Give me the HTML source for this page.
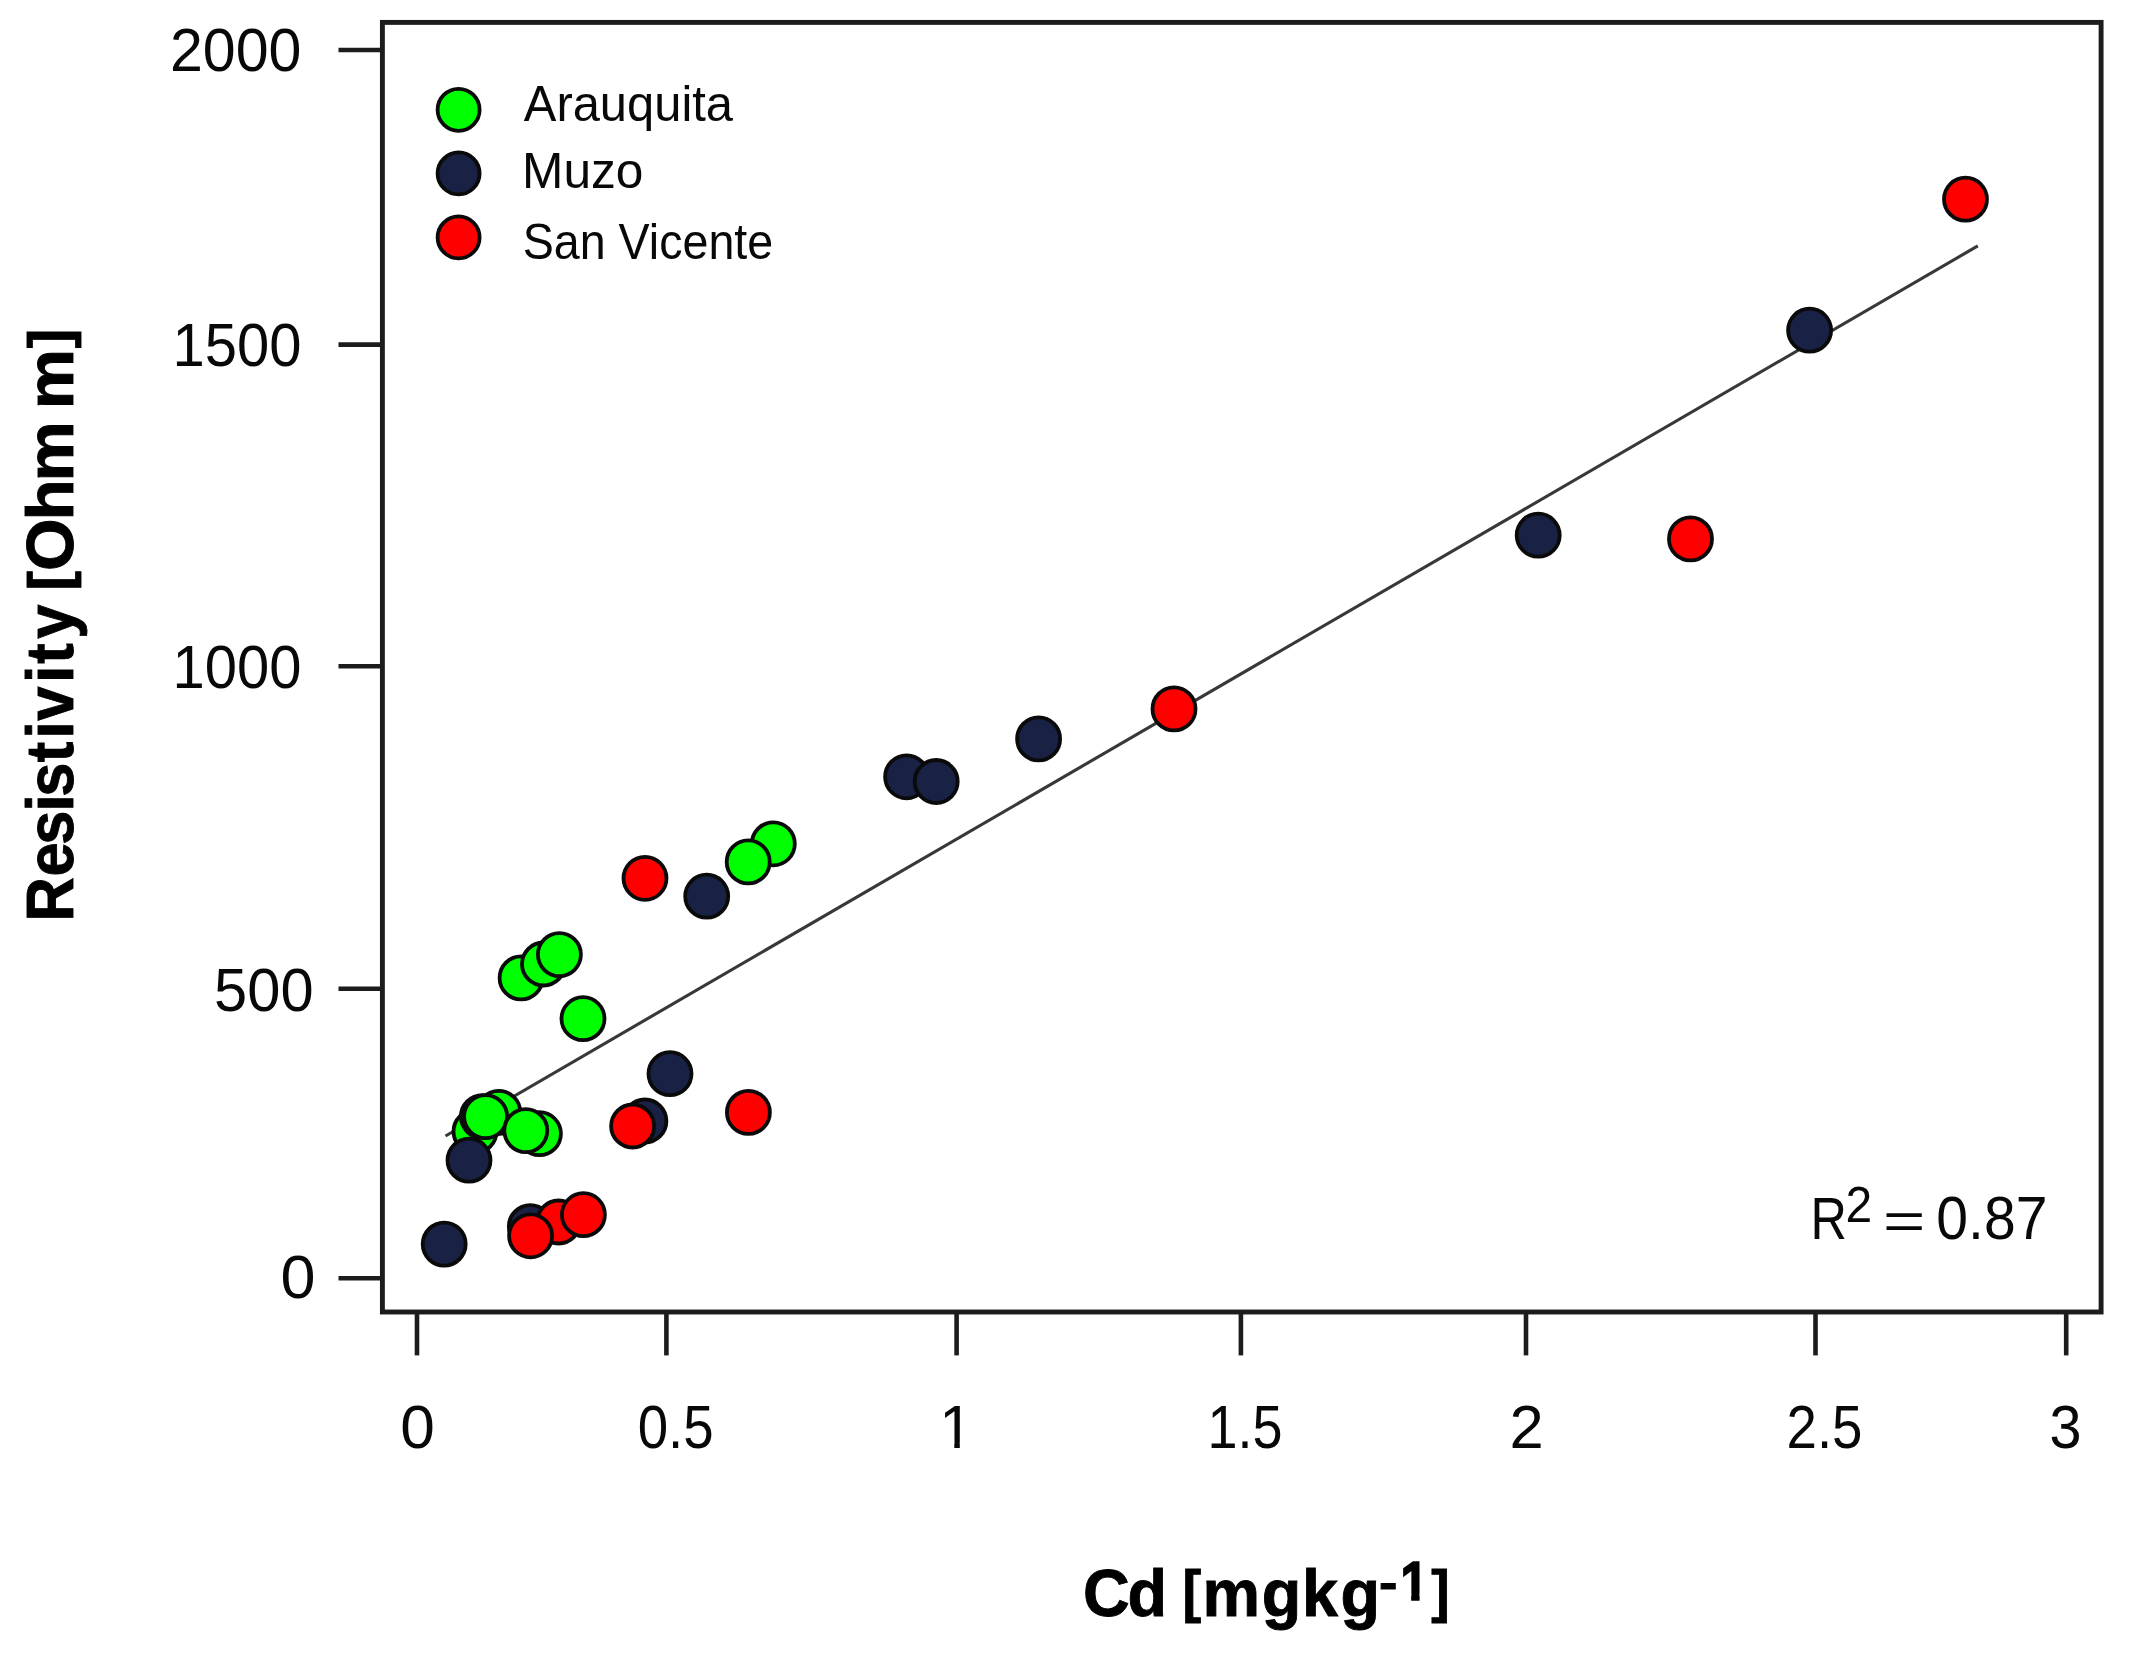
<!DOCTYPE html>
<html lang="en"><head><meta charset="utf-8"><title>Resistivity vs Cd</title>
<style>html,body{margin:0;padding:0;background:#fff}svg{display:block;filter:blur(0.75px)}text{font-family:"Liberation Sans",sans-serif;fill:#080808}.b{font-weight:bold;fill:#000;stroke:#000;stroke-width:0.9px}</style></head><body>
<svg width="2139" height="1659" viewBox="0 0 2139 1659">
<rect width="2139" height="1659" fill="#fff"/>
<rect x="382.4" y="22.4" width="1718.7" height="1289.6" fill="none" stroke="#1c1c1c" stroke-width="4.9"/>
<line x1="338.5" y1="50.0" x2="382.4" y2="50.0" stroke="#1c1c1c" stroke-width="4.6"/>
<line x1="338.5" y1="344.6" x2="382.4" y2="344.6" stroke="#1c1c1c" stroke-width="4.6"/>
<line x1="338.5" y1="666.2" x2="382.4" y2="666.2" stroke="#1c1c1c" stroke-width="4.6"/>
<line x1="338.5" y1="988.8" x2="382.4" y2="988.8" stroke="#1c1c1c" stroke-width="4.6"/>
<line x1="338.5" y1="1278.2" x2="382.4" y2="1278.2" stroke="#1c1c1c" stroke-width="4.6"/>
<line x1="417.0" y1="1312" x2="417.0" y2="1355.4" stroke="#1c1c1c" stroke-width="4.6"/>
<line x1="666.4" y1="1312" x2="666.4" y2="1355.4" stroke="#1c1c1c" stroke-width="4.6"/>
<line x1="956.6" y1="1312" x2="956.6" y2="1355.4" stroke="#1c1c1c" stroke-width="4.6"/>
<line x1="1240.9" y1="1312" x2="1240.9" y2="1355.4" stroke="#1c1c1c" stroke-width="4.6"/>
<line x1="1526.0" y1="1312" x2="1526.0" y2="1355.4" stroke="#1c1c1c" stroke-width="4.6"/>
<line x1="1815.5" y1="1312" x2="1815.5" y2="1355.4" stroke="#1c1c1c" stroke-width="4.6"/>
<line x1="2066.2" y1="1312" x2="2066.2" y2="1355.4" stroke="#1c1c1c" stroke-width="4.6"/>
<line x1="445.5" y1="1136" x2="1977.8" y2="245.9" stroke="#383838" stroke-width="3.1"/>
<circle cx="773.3" cy="843.8" r="21.5" fill="#00ff00" stroke="#0a0a0a" stroke-width="3.8"/>
<circle cx="748.2" cy="861.9" r="21.5" fill="#00ff00" stroke="#0a0a0a" stroke-width="3.8"/>
<circle cx="521.1" cy="977.9" r="21.5" fill="#00ff00" stroke="#0a0a0a" stroke-width="3.8"/>
<circle cx="543.5" cy="964.0" r="21.5" fill="#00ff00" stroke="#0a0a0a" stroke-width="3.8"/>
<circle cx="559.4" cy="954.6" r="21.5" fill="#00ff00" stroke="#0a0a0a" stroke-width="3.8"/>
<circle cx="583.0" cy="1018.7" r="21.5" fill="#00ff00" stroke="#0a0a0a" stroke-width="3.8"/>
<circle cx="475.0" cy="1131.5" r="21.5" fill="#00ff00" stroke="#0a0a0a" stroke-width="3.8"/>
<circle cx="498.8" cy="1112.4" r="21.5" fill="#00ff00" stroke="#0a0a0a" stroke-width="3.8"/>
<circle cx="482.4" cy="1116.6" r="21.5" fill="#00ff00" stroke="#0a0a0a" stroke-width="3.8"/>
<circle cx="485.6" cy="1116.6" r="21.5" fill="#00ff00" stroke="#0a0a0a" stroke-width="3.8"/>
<circle cx="539.4" cy="1133.7" r="21.5" fill="#00ff00" stroke="#0a0a0a" stroke-width="3.8"/>
<circle cx="525.8" cy="1130.6" r="21.5" fill="#00ff00" stroke="#0a0a0a" stroke-width="3.8"/>
<circle cx="706.7" cy="896.2" r="21.5" fill="#192245" stroke="#0a0a0a" stroke-width="3.8"/>
<circle cx="670.0" cy="1073.7" r="21.5" fill="#192245" stroke="#0a0a0a" stroke-width="3.8"/>
<circle cx="644.9" cy="1121.0" r="21.5" fill="#192245" stroke="#0a0a0a" stroke-width="3.8"/>
<circle cx="469.0" cy="1160.2" r="21.5" fill="#192245" stroke="#0a0a0a" stroke-width="3.8"/>
<circle cx="444.2" cy="1244.1" r="21.5" fill="#192245" stroke="#0a0a0a" stroke-width="3.8"/>
<circle cx="530.3" cy="1226.6" r="21.5" fill="#192245" stroke="#0a0a0a" stroke-width="3.8"/>
<circle cx="906.6" cy="776.8" r="21.5" fill="#192245" stroke="#0a0a0a" stroke-width="3.8"/>
<circle cx="936.2" cy="781.5" r="21.5" fill="#192245" stroke="#0a0a0a" stroke-width="3.8"/>
<circle cx="1038.6" cy="738.9" r="21.5" fill="#192245" stroke="#0a0a0a" stroke-width="3.8"/>
<circle cx="1538.2" cy="535.2" r="21.5" fill="#192245" stroke="#0a0a0a" stroke-width="3.8"/>
<circle cx="1809.6" cy="330.2" r="21.5" fill="#192245" stroke="#0a0a0a" stroke-width="3.8"/>
<circle cx="645.0" cy="878.3" r="21.5" fill="#ff0000" stroke="#0a0a0a" stroke-width="3.8"/>
<circle cx="748.4" cy="1112.4" r="21.5" fill="#ff0000" stroke="#0a0a0a" stroke-width="3.8"/>
<circle cx="632.6" cy="1126.0" r="21.5" fill="#ff0000" stroke="#0a0a0a" stroke-width="3.8"/>
<circle cx="558.6" cy="1222.0" r="21.5" fill="#ff0000" stroke="#0a0a0a" stroke-width="3.8"/>
<circle cx="530.6" cy="1235.8" r="21.5" fill="#ff0000" stroke="#0a0a0a" stroke-width="3.8"/>
<circle cx="583.4" cy="1214.7" r="21.5" fill="#ff0000" stroke="#0a0a0a" stroke-width="3.8"/>
<circle cx="1174.0" cy="708.9" r="21.5" fill="#ff0000" stroke="#0a0a0a" stroke-width="3.8"/>
<circle cx="1690.5" cy="538.9" r="21.5" fill="#ff0000" stroke="#0a0a0a" stroke-width="3.8"/>
<circle cx="1965.5" cy="199.2" r="21.5" fill="#ff0000" stroke="#0a0a0a" stroke-width="3.8"/>
<circle cx="458.6" cy="109.8" r="21.0" fill="#00ff00" stroke="#0a0a0a" stroke-width="3.8"/>
<circle cx="458.6" cy="173.4" r="21.0" fill="#192245" stroke="#0a0a0a" stroke-width="3.8"/>
<circle cx="458.6" cy="237.4" r="21.0" fill="#ff0000" stroke="#0a0a0a" stroke-width="3.8"/>
<text x="523.8" y="121.3" font-size="50.5" textLength="209.2" lengthAdjust="spacingAndGlyphs">Arauquita</text>
<text x="522" y="188.3" font-size="50.5" textLength="121.5" lengthAdjust="spacingAndGlyphs">Muzo</text>
<text x="522.7" y="258.6" font-size="50.5" textLength="250.5" lengthAdjust="spacingAndGlyphs">San Vicente</text>
<text x="301.5" y="71.0" font-size="60.5" text-anchor="end" textLength="131.5" lengthAdjust="spacingAndGlyphs">2000</text>
<text x="301.5" y="366.0" font-size="60.5" text-anchor="end" textLength="129" lengthAdjust="spacingAndGlyphs">1500</text>
<text x="301.5" y="688.1" font-size="60.5" text-anchor="end" textLength="129" lengthAdjust="spacingAndGlyphs">1000</text>
<text x="313.6" y="1010.9" font-size="60.5" text-anchor="end" textLength="99.5" lengthAdjust="spacingAndGlyphs">500</text>
<text x="315.5" y="1298.4" font-size="60.5" text-anchor="end" textLength="35" lengthAdjust="spacingAndGlyphs">0</text>
<text x="417.5" y="1447.5" font-size="60.5" text-anchor="middle" textLength="34.6" lengthAdjust="spacingAndGlyphs">0</text>
<text x="675.7" y="1447.5" font-size="60.5" text-anchor="middle" textLength="76" lengthAdjust="spacingAndGlyphs">0.5</text>
<clipPath id="c2"><rect x="936" y="1395" width="32" height="47.6"/><rect x="954.3" y="1442.4" width="5.5" height="6"/></clipPath>
<text x="939.2" y="1447.5" font-size="60.5" clip-path="url(#c2)">1</text>
<text x="1245" y="1447.5" font-size="60.5" text-anchor="middle" textLength="75" lengthAdjust="spacingAndGlyphs">1.5</text>
<text x="1526.5" y="1447.5" font-size="60.5" text-anchor="middle" textLength="34.2" lengthAdjust="spacingAndGlyphs">2</text>
<text x="1824.5" y="1447.5" font-size="60.5" text-anchor="middle" textLength="76" lengthAdjust="spacingAndGlyphs">2.5</text>
<text x="2065.4" y="1447.5" font-size="60.5" text-anchor="middle" textLength="32" lengthAdjust="spacingAndGlyphs">3</text>
<text font-size="59"><tspan x="1810.4" y="1238.5" textLength="36.4" lengthAdjust="spacingAndGlyphs">R</tspan><tspan x="1845.5" y="1221.6" font-size="50.5" textLength="26.7" lengthAdjust="spacingAndGlyphs">2</tspan><tspan> </tspan><tspan x="1883" y="1238.6" font-size="51" textLength="42.4" lengthAdjust="spacingAndGlyphs">=</tspan><tspan> </tspan><tspan x="1936.3" y="1238.5" font-size="60.5" textLength="111.1" lengthAdjust="spacingAndGlyphs">0.87</tspan></text>
<clipPath id="c1"><rect x="-60" y="-90" width="385.2" height="140"/><rect x="362.4" y="-90" width="200" height="140"/><rect x="324.2" y="-90" width="39.3" height="68.2"/><rect x="343.1" y="-22" width="8.4" height="6.6"/></clipPath>
<text class="b" clip-path="url(#c1)" transform="translate(1080.0 1616) scale(0.9657 1)" font-size="67" x="3.0 49.2 69.2 106.1 126.9 188.3 229.8 269.8">Cd <tspan font-size="58" dy="-4.6">[</tspan><tspan dy="4.6">m</tspan>gkg<tspan x="309.6" y="-18.4" font-size="46" textLength="19.1" lengthAdjust="spacingAndGlyphs">-</tspan><tspan x="331.1" y="-15.4" font-size="55" style="font-weight:normal;stroke-width:3.6px;stroke-linejoin:miter">1</tspan><tspan x="363.8" y="-4.6" font-size="58" textLength="19.1" lengthAdjust="spacingAndGlyphs">]</tspan></text>
<text class="b" transform="translate(73.3 920.0) rotate(-90) scale(0.9171 1)" font-size="67" x="-1.6 47.5 82.0 118.2 134.5 172.0 197.9 217.4 258.6 279.4 306.7">Resistivity</text>
<text class="b" transform="translate(73.3 920.0) rotate(-90) scale(1.0096 1)" font-size="67" x="326.3 345.6 395.8 434.3 464.3 505.9 566.3"><tspan font-size="58" dy="-4.6">[</tspan><tspan dy="4.6">O</tspan>hm m<tspan font-size="58" dy="-4.6">]</tspan></text>
</svg></body></html>
